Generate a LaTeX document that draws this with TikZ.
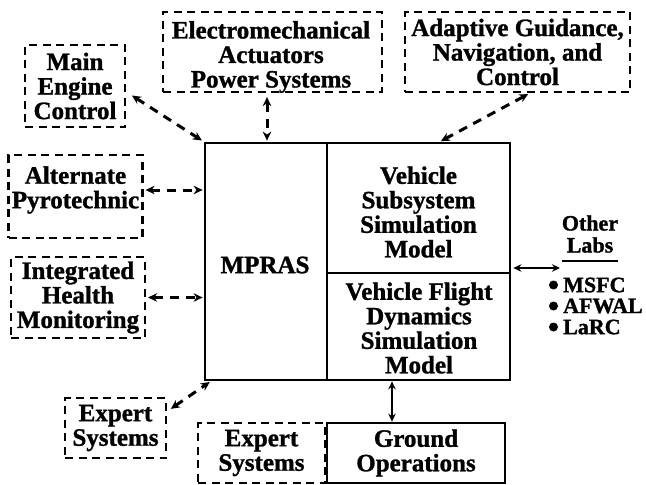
\documentclass[tikz,border=0pt]{standalone}
\usepackage{fontspec}
\setmainfont{Liberation Serif}[BoldFeatures={FakeBold=1.2}]
\usetikzlibrary{arrows.meta,calc}
\begin{document}
\begin{tikzpicture}[x=1pt,y=-1pt,
  txt/.style={font=\bfseries\fontsize{25}{24.5}\selectfont, align=center, inner sep=0pt},
  dbox/.style={txt, draw, line width=2.2pt, dash pattern=on 8pt off 5.5pt, minimum width=#1},
  sbox/.style={txt, draw, line width=2.8pt},
  darr/.style={line width=3pt, dash pattern=on 9pt off 7pt, {Stealth[length=9pt,width=8.5pt]}-{Stealth[length=9pt,width=8.5pt]}},
  sarr/.style={line width=2.6pt, {Stealth[length=8pt,width=7.5pt]}-{Stealth[length=8pt,width=7.5pt]}},
  labtxt/.style={font=\bfseries\fontsize{22}{22}\selectfont, inner sep=0pt, align=center}
]
\useasboundingbox (0,0) rectangle (646,485);
% main block
\node[sbox, minimum width=305pt, minimum height=237pt] (mpras) at (357.5,261.5) {};
\coordinate (divtop) at (327,143);
\coordinate (divbot) at (327,380);
\draw[line width=2.8pt] (divtop) -- (divbot);
\coordinate (hdivl) at (327,273);
\draw[line width=2.8pt] (hdivl) -- (hdivl -| mpras.east);
\node[txt] (mlabel) at (265,265) {MPRAS};
\node[txt] (vssm) at (418.5,212) {Vehicle\\Subsystem\\Simulation\\Model};
\node[txt] (vfdsm) at (419,328) {Vehicle Flight\\Dynamics\\Simulation\\Model};
% dashed boxes
\node[dbox=100pt, minimum height=82pt] (mec) at (75,86) {Main\\Engine\\Control};
\node[dbox=219pt, minimum height=80pt] (eaps) at (272.5,52) {};
\node[txt] (eapstxt) at (271,57) {Electromechanical\\Actuators\\Power Systems};
\node[dbox=225pt, minimum height=80pt] (agnc) at (517.5,52) {Adaptive Guidance,\\Navigation, and\\Control};
\node[dbox=134pt, minimum height=83pt] (apyro) at (75.5,196.5) {};
\node[txt] (apyrotxt) at (75.5,190) {Alternate\\Pyrotechnic};
\node[dbox=134pt, minimum height=81pt] (ihm) at (78,297.5) {Integrated\\Health\\Monitoring};
\node[dbox=101pt, minimum height=60pt] (esl) at (115.5,428) {Expert\\Systems};
\node[dbox=127pt, minimum height=60pt] (esb) at (261.5,453) {Expert\\Systems};
\node[sbox, minimum width=178pt, minimum height=60pt] (go) at (416,453) {Ground\\Operations};
% connectors
\draw[darr, shorten <=1pt, shorten >=2pt] ([xshift=5pt,yshift=-9pt]mec.east) -- (mpras.north west);
\draw[darr, shorten <=4pt, shorten >=1pt] ([xshift=-5.5pt]eaps.south) -- ([xshift=-5.5pt]eaps.south |- mpras.north);
\draw[darr, shorten <=2pt, shorten >=1pt] ([xshift=12.5pt]agnc.south) -- ([xshift=82.5pt]mpras.north);
\draw[darr, shorten <=2pt, shorten >=1pt] ([yshift=6.5pt]apyro.east) -- ([yshift=6.5pt]apyro.east -| mpras.west);
\draw[darr, shorten <=2pt, shorten >=1pt] (ihm.east) -- (ihm.east -| mpras.west);
\draw[darr, shorten <=2pt, shorten >=1pt] ([xshift=2pt,yshift=18pt]esl.east) -- ([xshift=7pt]mpras.south west);
\draw[sarr] ([xshift=-24pt]go.north) -- ([xshift=-24pt]go.north |- mpras.south);
% other labs
\coordinate (labsend) at (560,268);
\draw[sarr, shorten <=2pt] ([yshift=-6.5pt]mpras.east) -- (labsend);
\node[labtxt] (other) at (590,234) {Other\\Labs};
\coordinate (ul1) at (562,261);
\coordinate (ul2) at (618,261);
\draw[line width=2.6pt] (ul1) -- (ul2);
\node[labtxt, anchor=west] (msfc) at (563,285) {MSFC};
\node[labtxt, anchor=west] (afwal) at (563,306) {AFWAL};
\node[labtxt, anchor=west] (larc) at (563,327) {LaRC};
\fill (msfc.west) ++(-9.5,0) circle (4.5pt);
\fill (afwal.west) ++(-9.5,0) circle (4.5pt);
\fill (larc.west) ++(-9.5,0) circle (4.5pt);
\end{tikzpicture}
\end{document}
